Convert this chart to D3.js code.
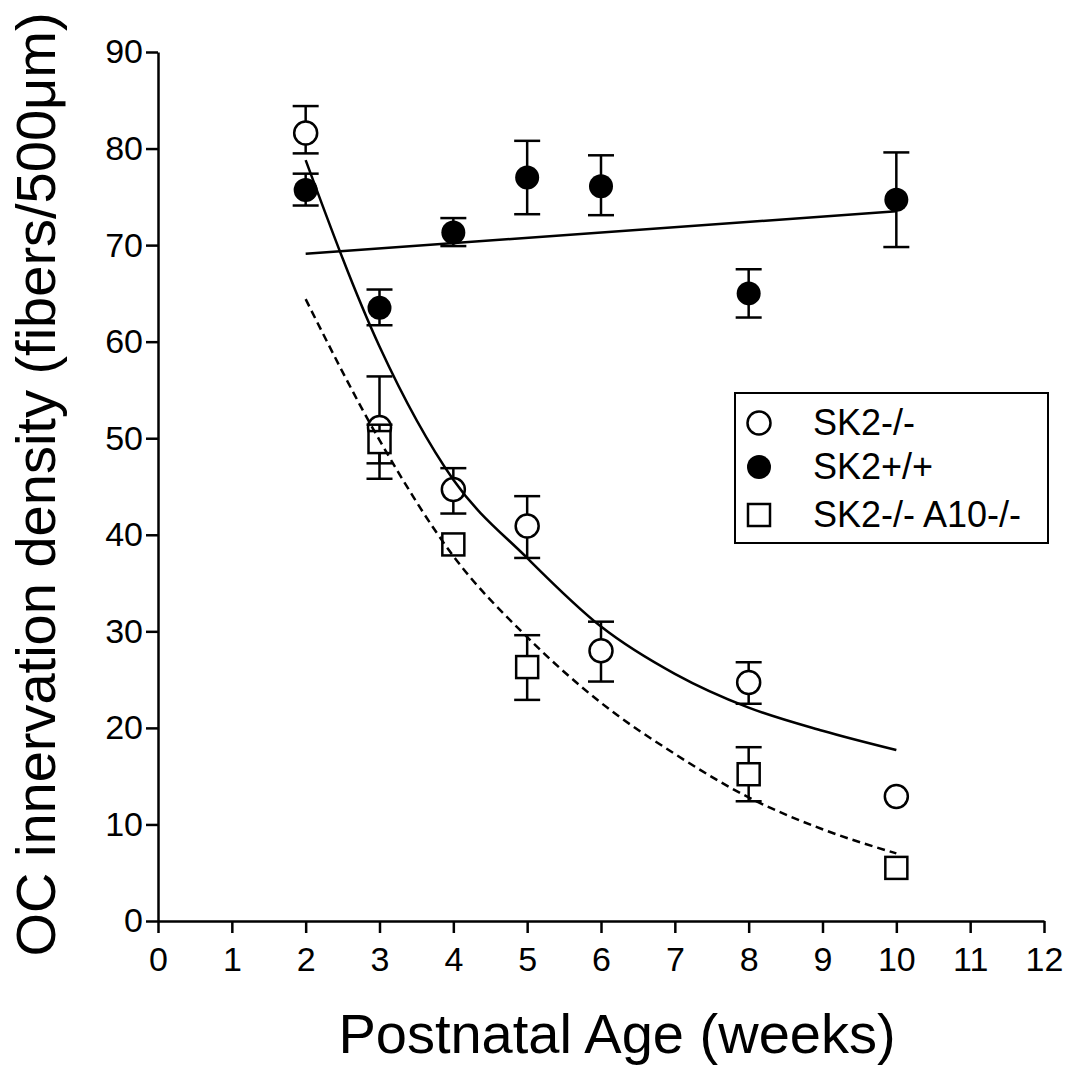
<!DOCTYPE html>
<html>
<head>
<meta charset="utf-8">
<script src="https://cdn.jsdelivr.net/npm/d3@7"></script>
<style>
  body { margin: 0; background: #fff; }
  svg { display: block; font-family: Arial, "Liberation Sans", sans-serif; }
</style>
</head>
<body>
<div id="chart"></div>
<script>
// SK2-/- (open circles)
var koWeeks = [2, 3, 4, 5, 6, 8, 10];
var koMean  = [81.6, 51.1, 44.7, 40.9, 28.0, 24.7, 12.9];
var koHi    = [84.4, 56.4, 46.9, 44.0, 31.0, 26.8, null];
var koLo    = [79.5, 45.8, 42.2, 37.6, 24.8, 22.5, null];

// SK2+/+ (filled circles)
var wtWeeks = [2, 3, 4, 5, 6, 8, 10];
var wtMean  = [75.7, 63.5, 71.3, 77.0, 76.1, 65.0, 74.7];
var wtHi    = [77.4, 65.4, 72.8, 80.8, 79.3, 67.5, 79.6];
var wtLo    = [74.1, 61.7, 69.9, 73.2, 73.1, 62.5, 69.8];

// SK2-/- A10-/- (open squares)
var dkoWeeks = [3, 4, 5, 8, 10];
var dkoMean  = [49.6, 39.0, 26.3, 15.2, 5.5];
var dkoHi    = [51.4, null, 29.6, 18.0, null];
var dkoLo    = [47.4, null, 22.9, 12.4, null];

// fitted curves
var fitWeeks = [2, 3, 4, 5, 6, 7, 8, 9, 10];
var fitKO    = [78.8, 59.5, 45.7, 37.6, 30.5, 25.6, 22.1, 19.7, 17.7];
var fitDKO   = [64.4, 49.8, 37.8, 29.4, 22.6, 17.3, 12.8, 9.5, 7.0];
var fitWTWeeks = [2, 10];
var fitWT      = [69.1, 73.5];

var xTicks = [0, 1, 2, 3, 4, 5, 6, 7, 8, 9, 10, 11, 12];
var yTicks = [0, 10, 20, 30, 40, 50, 60, 70, 80, 90];

var legendLabels = ["SK2-/-", "SK2+/+", "SK2-/- A10-/-"];

var width = 1075, height = 1068;
var plotLeft = 158, plotRight = 1044, plotTop = 52, plotBottom = 921;

var svg = d3.select("#chart").append("svg")
    .attr("width", width)
    .attr("height", height);

var x = d3.scaleLinear().domain([0, 12]).range([plotLeft, plotRight]);
var y = d3.scaleLinear().domain([0, 90]).range([plotBottom, plotTop]);

// axes
var xAxis = svg.append("g")
    .attr("transform", "translate(0," + plotBottom + ")")
    .call(d3.axisBottom(x).tickValues(xTicks).tickFormat(d3.format("d"))
          .tickSize(12).tickSizeOuter(0).tickPadding(14));

var yAxis = svg.append("g")
    .attr("transform", "translate(" + plotLeft + ",0)")
    .call(d3.axisLeft(y).tickValues(yTicks).tickFormat(d3.format("d"))
          .tickSize(12).tickSizeOuter(0).tickPadding(3));

[xAxis, yAxis].forEach(function(g) {
  g.attr("font-size", 34).attr("font-family", "Arial, 'Liberation Sans', sans-serif");
  g.selectAll("path, line").attr("stroke", "#000").attr("stroke-width", 2.5);
  g.selectAll("text").attr("fill", "#000");
});

// axis titles
svg.append("text")
    .attr("x", 617).attr("y", 1053)
    .attr("text-anchor", "middle")
    .attr("font-size", "56px")
    .text("Postnatal Age (weeks)");

svg.append("text")
    .attr("transform", "translate(55," + ((plotTop + plotBottom) / 2 - 2) + ") rotate(-90)")
    .attr("text-anchor", "middle")
    .attr("font-size", "56px")
    .text("OC innervation density (fibers/500\u03BCm)");

function rows(weeks, mean, hi, lo) {
  return weeks.map(function(w, i) {
    return { w: w, m: mean[i], hi: hi[i], lo: lo[i] };
  });
}

var cap = 13, r = 11.5, sq = 22;

function drawErrors(data) {
  var g = svg.append("g").attr("stroke", "#000").attr("stroke-width", 2.5);
  data.filter(function(d) { return d.hi != null; }).forEach(function(d) {
    g.append("line").attr("x1", x(d.w)).attr("x2", x(d.w))
      .attr("y1", y(d.hi)).attr("y2", y(d.lo));
    g.append("line").attr("x1", x(d.w) - cap).attr("x2", x(d.w) + cap)
      .attr("y1", y(d.hi)).attr("y2", y(d.hi));
    g.append("line").attr("x1", x(d.w) - cap).attr("x2", x(d.w) + cap)
      .attr("y1", y(d.lo)).attr("y2", y(d.lo));
  });
}

var ko = rows(koWeeks, koMean, koHi, koLo);
var wt = rows(wtWeeks, wtMean, wtHi, wtLo);
var dko = rows(dkoWeeks, dkoMean, dkoHi, dkoLo);

// SK2-/-
drawErrors(ko);
svg.append("g").selectAll("circle").data(ko).enter().append("circle")
    .attr("cx", function(d) { return x(d.w); })
    .attr("cy", function(d) { return y(d.m); })
    .attr("r", r)
    .attr("fill", "#fff").attr("stroke", "#000").attr("stroke-width", 2.5);

// SK2+/+
drawErrors(wt);
svg.append("g").selectAll("circle").data(wt).enter().append("circle")
    .attr("cx", function(d) { return x(d.w); })
    .attr("cy", function(d) { return y(d.m); })
    .attr("r", r + 0.5)
    .attr("fill", "#000");

// SK2-/- A10-/-
drawErrors(dko);
svg.append("g").selectAll("rect").data(dko).enter().append("rect")
    .attr("x", function(d) { return x(d.w) - sq / 2; })
    .attr("y", function(d) { return y(d.m) - sq / 2; })
    .attr("width", sq).attr("height", sq)
    .attr("fill", "#fff").attr("stroke", "#000").attr("stroke-width", 2.5);

// fit lines
var line = d3.line()
    .x(function(d) { return x(d[0]); })
    .y(function(d) { return y(d[1]); })
    .curve(d3.curveMonotoneX);

svg.append("path")
    .attr("d", line(d3.zip(fitWTWeeks, fitWT)))
    .attr("fill", "none").attr("stroke", "#000").attr("stroke-width", 2.5);

svg.append("path")
    .attr("d", line(d3.zip(fitWeeks, fitKO)))
    .attr("fill", "none").attr("stroke", "#000").attr("stroke-width", 2.5);

svg.append("path")
    .attr("d", line(d3.zip(fitWeeks, fitDKO)))
    .attr("fill", "none").attr("stroke", "#000").attr("stroke-width", 2.5)
    .attr("stroke-dasharray", "8,5");

// legend
var lg = svg.append("g").attr("transform", "translate(735,393)");
lg.append("rect").attr("width", 313).attr("height", 150)
    .attr("fill", "#fff").attr("stroke", "#000").attr("stroke-width", 2);

var rowY = [30, 74, 122];
lg.append("circle").attr("cx", 24).attr("cy", rowY[0]).attr("r", r)
    .attr("fill", "#fff").attr("stroke", "#000").attr("stroke-width", 2.5);
lg.append("circle").attr("cx", 24).attr("cy", rowY[1]).attr("r", r + 0.5)
    .attr("fill", "#000");
lg.append("rect").attr("x", 24 - sq / 2).attr("y", rowY[2] - sq / 2)
    .attr("width", sq).attr("height", sq)
    .attr("fill", "#fff").attr("stroke", "#000").attr("stroke-width", 2.5);

lg.selectAll("text.lab").data(legendLabels).enter().append("text")
    .attr("class", "lab")
    .attr("x", 78)
    .attr("y", function(d, i) { return rowY[i] + 12; })
    .attr("font-size", "36px")
    .text(function(d) { return d; });
</script>
</body>
</html>
